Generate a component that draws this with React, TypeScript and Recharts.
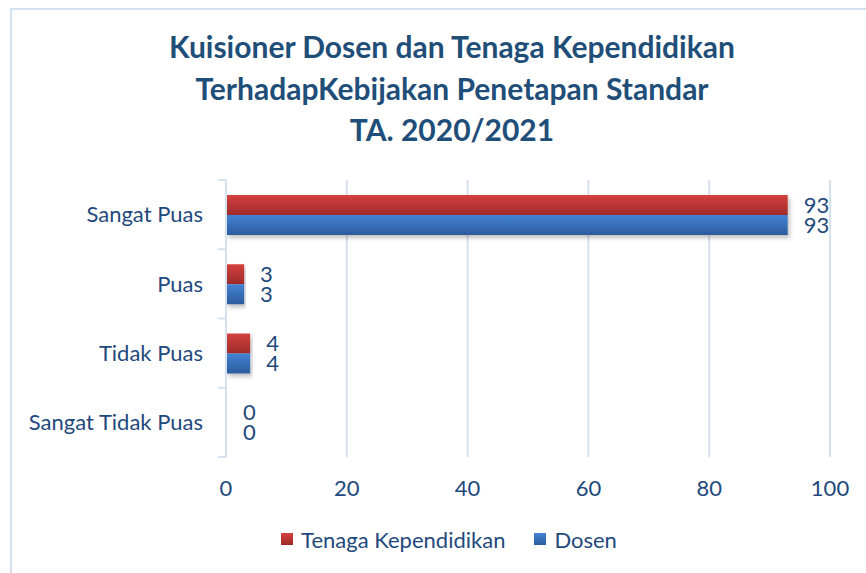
import React from 'react';
import { BarChart, Bar, XAxis, YAxis, CartesianGrid, LabelList, Rectangle } from 'recharts';

const categories = ['Sangat Puas', 'Puas', 'Tidak Puas', 'Sangat Tidak Puas'];
const tenagaValues = [93, 3, 4, 0];
const dosenValues = [93, 3, 4, 0];
const xTicks = [0, 20, 40, 60, 80, 100];
const titleLines = [
  'Kuisioner Dosen dan Tenaga Kependidikan',
  'TerhadapKebijakan Penetapan Standar',
  'TA. 2020/2021',
];
const seriesNames = ['Tenaga Kependidikan', 'Dosen'];

const data = categories.map((c, i) => ({
  category: c,
  tenaga: tenagaValues[i],
  dosen: dosenValues[i],
}));

const FONT = 'Lato, "Open Sans", sans-serif';
const TEXT = '#1F497D';
const TITLE = '#1F4E79';
const GRID = '#D6E1F0';
const FS = 22;

const W = 866;
const H = 573;
const MARGIN = { top: 180, right: 36, bottom: 86, left: 0 };
const XAXIS_H = 30;
const YAXIS_W = 226;
const TICK_MARGIN = 23;
const PLOT_H = H - MARGIN.top - MARGIN.bottom - XAXIS_H;

const YTick = (props: any) => {
  const { x, y, payload, index } = props;
  const band = PLOT_H / categories.length;
  const axisX = x + TICK_MARGIN;
  return (
    <g>
      <text x={x} y={y} dy="0.35em" textAnchor="end" fill={TEXT} fontSize={FS} fontFamily={FONT}>
        {payload.value}
      </text>
      <line x1={axisX - 8} x2={axisX} y1={y - band / 2} y2={y - band / 2} stroke={GRID} strokeWidth={2} />
      {index === categories.length - 1 && (
        <line x1={axisX - 8} x2={axisX} y1={y + band / 2} y2={y + band / 2} stroke={GRID} strokeWidth={2} />
      )}
    </g>
  );
};

// draws nothing for zero-width bars, keeps the label position
const BarShape = (props: any) => {
  const { width } = props;
  if (!width || width < 1.5) return <g />;
  return <Rectangle {...props} />;
};

const ValueLabel = (props: any) => {
  const { x, y, width, height, value } = props;
  return (
    <text
      x={Number(x) + Math.max(Number(width) || 0, 0) + 16}
      y={Number(y) + Number(height) / 2}
      dy="0.35em"
      textAnchor="start"
      fill={TEXT}
      fontSize={FS}
      fontFamily={FONT}
    >
      {value}
    </text>
  );
};

const legendSwatch = (id: string) => (
  <svg width={12} height={12} style={{ marginRight: 8 }}>
    <rect x={0} y={0} width={12} height={12} fill={`url(#${id})`} />
  </svg>
);

export default function App() {
  return (
    <div style={{ position: 'absolute', left: 0, top: 0, width: W, height: H, background: '#fff', overflow: 'hidden', fontFamily: FONT }}>
      <svg width={0} height={0} style={{ position: 'absolute' }}>
        <defs>
          <linearGradient id="gradRed" x1="0" y1="0" x2="0" y2="1">
            <stop offset="0%" stopColor="#D4413F" />
            <stop offset="100%" stopColor="#9E2A2A" />
          </linearGradient>
          <linearGradient id="gradBlue" x1="0" y1="0" x2="0" y2="1">
            <stop offset="0%" stopColor="#4383D4" />
            <stop offset="100%" stopColor="#2C5C9C" />
          </linearGradient>
        </defs>
      </svg>
      <div style={{ position: 'absolute', left: 10, top: 8, width: W, height: H, borderLeft: `2px solid ${GRID}`, borderTop: `2px solid ${GRID}` }} />
      <div style={{ position: 'absolute', left: 0, top: 26, width: 904, textAlign: 'center', color: TITLE, fontWeight: 700, fontSize: 30, lineHeight: '41.5px' }}>
        {titleLines.map((t) => (
          <div key={t}>{t}</div>
        ))}
      </div>
      <div style={{ position: 'absolute', left: 0, top: 0 }}>
        <BarChart width={W} height={H} data={data} layout="vertical" margin={MARGIN} barSize={20} barGap={0}>
          <defs>
            <linearGradient id="barRed" x1="0" y1="0" x2="0" y2="1">
              <stop offset="0%" stopColor="#D4413F" />
              <stop offset="100%" stopColor="#9E2A2A" />
            </linearGradient>
            <linearGradient id="barBlue" x1="0" y1="0" x2="0" y2="1">
              <stop offset="0%" stopColor="#4383D4" />
              <stop offset="100%" stopColor="#2C5C9C" />
            </linearGradient>
            <filter id="shadow" x="-5%" y="-20%" width="115%" height="160%">
              <feDropShadow dx="2" dy="3" stdDeviation="2" floodColor="#000" floodOpacity="0.25" />
            </filter>
          </defs>
          <CartesianGrid horizontal={false} vertical stroke={GRID} strokeWidth={2} />
          <XAxis
            type="number"
            domain={[0, 100]}
            ticks={xTicks}
            height={XAXIS_H}
            axisLine={false}
            tickLine={false}
            tickSize={0}
            tickMargin={23}
            tick={{ fill: TEXT, fontSize: FS, fontFamily: FONT }}
          />
          <YAxis
            type="category"
            dataKey="category"
            width={YAXIS_W}
            axisLine={{ stroke: GRID, strokeWidth: 2 }}
            tickLine={false}
            tickSize={0}
            tickMargin={TICK_MARGIN}
            tick={<YTick />}
            interval={0}
          />
          <Bar dataKey="tenaga" name={seriesNames[0]} fill="url(#barRed)" filter="url(#shadow)" minPointSize={1} shape={<BarShape />} isAnimationActive={false}>
            <LabelList dataKey="tenaga" content={<ValueLabel />} />
          </Bar>
          <Bar dataKey="dosen" name={seriesNames[1]} fill="url(#barBlue)" filter="url(#shadow)" minPointSize={1} shape={<BarShape />} isAnimationActive={false}>
            <LabelList dataKey="dosen" content={<ValueLabel />} />
          </Bar>
        </BarChart>
      </div>
      <div style={{ position: 'absolute', left: 0, top: 524, width: 898, height: 30, display: 'flex', justifyContent: 'center', alignItems: 'center', color: TEXT, fontSize: FS }}>
        <div style={{ display: 'flex', alignItems: 'center', marginRight: 29 }}>
          {legendSwatch('gradRed')}
          <span>{seriesNames[0]}</span>
        </div>
        <div style={{ display: 'flex', alignItems: 'center' }}>
          {legendSwatch('gradBlue')}
          <span>{seriesNames[1]}</span>
        </div>
      </div>
    </div>
  );
}
